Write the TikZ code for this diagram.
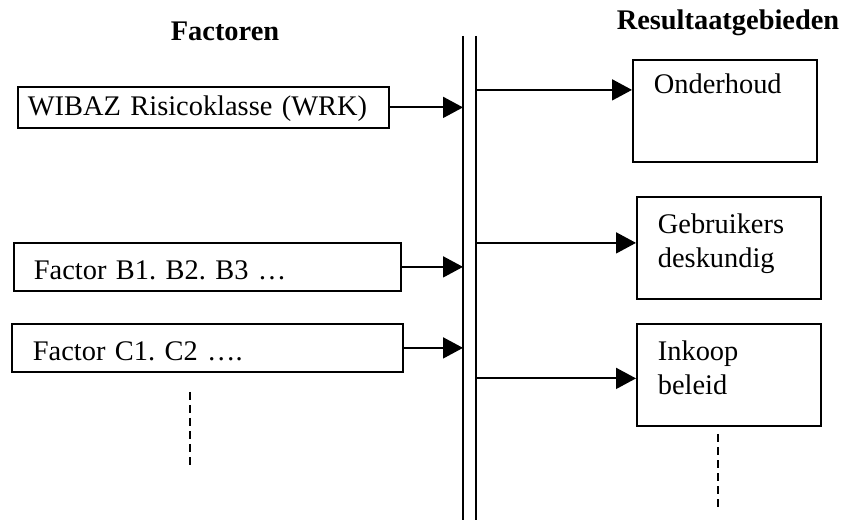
\documentclass[tikz,border=0pt]{standalone}
\usepackage{fontspec}
\setmainfont{Liberation Serif}
\usetikzlibrary{arrows.meta, positioning}
\frenchspacing
\begin{document}
\begin{tikzpicture}[x=0.5pt,y=-0.5pt,font=\fontsize{14.2}{17}\selectfont]
    \tikzstyle{factbox}=[draw,line width=0.9pt,anchor=north west,align=left,inner ysep=0pt,text height=18.5pt,text depth=5.5pt]
    \tikzstyle{resbox}=[draw,line width=0.9pt,anchor=north west,align=left,inner ysep=0pt,inner xsep=10.5pt,text width=71pt,text height=18.5pt,text depth=32.5pt]
    \tikzstyle{bus}=[line width=0.9pt]
    \tikzstyle{pijl}=[line width=0.9pt,-{Triangle[length=10pt,width=10.5pt]}]
    \tikzstyle{stippel}=[line width=0.7pt,dash pattern=on 4pt off 2.5pt]

    \useasboundingbox (0,0) rectangle (849,522);

    \node (fact) [anchor=base,font=\fontsize{14.2}{17}\selectfont\bfseries] at (225,41) {Factoren};
    \node (res) [anchor=base,font=\fontsize{14.2}{17}\selectfont\bfseries] at (728,30) {Resultaatgebieden};

    \coordinate (busLt) at (463,36);
    \coordinate (busLb) at (463,520);
    \coordinate (busRt) at (476,36);
    \coordinate (busRb) at (476,520);
    \draw [bus] (busLt) -- (busLb);
    \draw [bus] (busRt) -- (busRb);

    \node (wrk) [factbox,inner xsep=5pt,text width=175.5pt,text height=14.5pt,text depth=6pt] at (17,86) {WIBAZ Risicoklasse (WRK)};
    \node (fb) [factbox,inner xsep=10pt,text width=173.5pt] at (13,242) {Factor B1. B2. B3 …};
    \node (fc) [factbox,inner xsep=10.5pt,text width=174.5pt] at (11,323) {Factor C1. C2 ….};

    \node (ond) [resbox,text height=17pt,text depth=34pt] at (632,59) {Onderhoud};
    \node (geb) [resbox] at (636,196) {Gebruikers\\deskundig};
    \node (ink) [resbox] at (636,323) {Inkoop\\beleid};

    \draw [pijl] (wrk.east) -- (wrk.east -| busLt);
    \draw [pijl] (fb.east) -- (fb.east -| busLt);
    \draw [pijl] (fc.east) -- (fc.east -| busLt);

    \coordinate (ondin) at ([yshift=10.5pt]ond.west);
    \coordinate (gebin) at ([yshift=2.5pt]geb.west);
    \coordinate (inkin) at ([yshift=-1.75pt]ink.west);
    \draw [pijl] (ondin -| busRt) -- (ondin);
    \draw [pijl] (gebin -| busRt) -- (gebin);
    \draw [pijl] (inkin -| busRt) -- (inkin);

    \coordinate (lmeer) at (190,392);
    \coordinate (rmeer) at (718,434);
    \draw [stippel] (lmeer) -- ++(0,75);
    \draw [stippel] (rmeer) -- ++(0,76);
\end{tikzpicture}
\end{document}
